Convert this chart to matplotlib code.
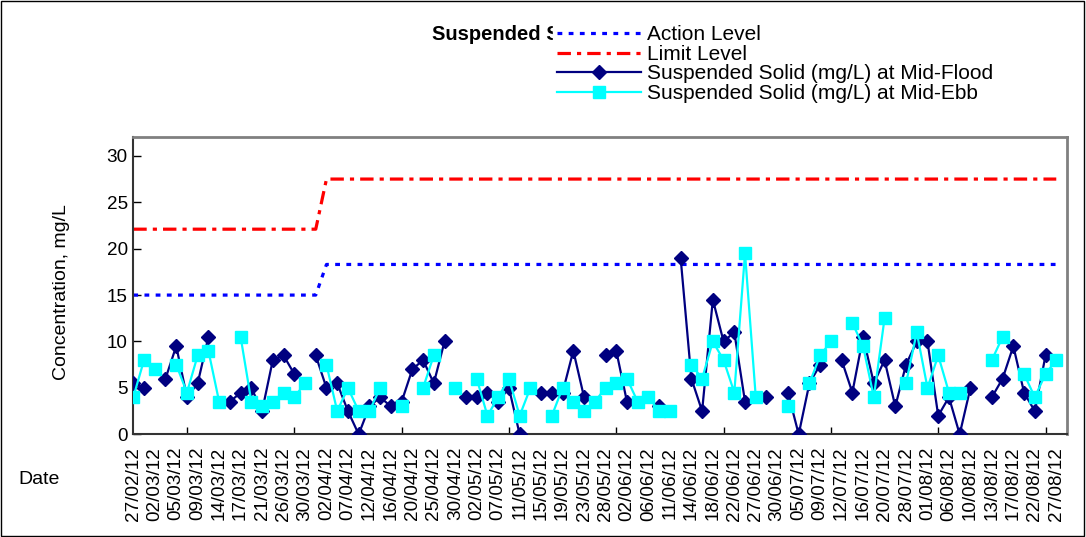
import matplotlib
matplotlib.use("Agg")
import matplotlib.pyplot as plt
import numpy as np
from matplotlib.patches import Rectangle

nan = np.nan

# every 2nd category is labelled on the axis
date_labels = ["27/02/12", "02/03/12", "05/03/12", "09/03/12", "14/03/12", "17/03/12",
               "21/03/12", "26/03/12", "30/03/12", "02/04/12", "07/04/12", "12/04/12",
               "16/04/12", "20/04/12", "25/04/12", "30/04/12", "02/05/12", "07/05/12",
               "11/05/12", "15/05/12", "19/05/12", "23/05/12", "28/05/12", "02/06/12",
               "06/06/12", "11/06/12", "14/06/12", "18/06/12", "22/06/12", "27/06/12",
               "30/06/12", "05/07/12", "09/07/12", "12/07/12", "16/07/12", "20/07/12",
               "28/07/12", "01/08/12", "06/08/12", "10/08/12", "13/08/12", "17/08/12",
               "22/08/12", "27/08/12"]

mid_flood = [5.5, 5.0, nan, 6.0, 9.5, 4.0, 5.5, 10.5, nan, 3.5,
             4.5, 5.0, 2.5, 8.0, 8.5, 6.5, nan, 8.5, 5.0, 5.5,
             2.5, 0.0, 3.0, 4.0, 3.0, 3.5, 7.0, 8.0, 5.5, 10.0,
             nan, 4.0, 4.0, 4.5, 3.5, 5.0, 0.0, nan, 4.5, 4.5,
             4.5, 9.0, 4.0, nan, 8.5, 9.0, 3.5, nan, nan, 3.0,
             nan, 19.0, 6.0, 2.5, 14.5, 10.0, 11.0, 3.5, nan, 4.0,
             nan, 4.5, 0.0, 5.5, 7.5, nan, 8.0, 4.5, 10.5, 5.5,
             8.0, 3.0, 7.5, 10.0, 10.0, 2.0, 4.0, 0.0, 5.0, nan,
             4.0, 6.0, 9.5, 4.5, 2.5, 8.5, nan]

mid_ebb = [4.0, 8.0, 7.0, nan, 7.5, 4.5, 8.5, 9.0, 3.5, nan,
           10.5, 3.5, 3.0, 3.5, 4.5, 4.0, 5.5, nan, 7.5, 2.5,
           5.0, 2.5, 2.5, 5.0, nan, 3.0, nan, 5.0, 8.5, nan,
           5.0, nan, 6.0, 2.0, 4.0, 6.0, 2.0, 5.0, nan, 2.0,
           5.0, 3.5, 2.5, 3.5, 5.0, 5.5, 6.0, 3.5, 4.0, 2.5,
           2.5, nan, 7.5, 6.0, 10.0, 8.0, 4.5, 19.5, 4.0, nan,
           nan, 3.0, nan, 5.5, 8.5, 10.0, nan, 12.0, 9.5, 4.0,
           12.5, nan, 5.5, 11.0, 5.0, 8.5, 4.5, 4.5, nan, nan,
           8.0, 10.5, nan, 6.5, 4.0, 6.5, 8.0]

action_level = [15.0] * 18 + [18.3] * 69
limit_level = [22.1] * 18 + [27.5] * 69

n_cat = 88  # last category is empty
x = np.arange(len(mid_flood))

plt.rcParams["font.family"] = ["Liberation Sans", "DejaVu Sans"]
fs = 13.6

fig = plt.figure(figsize=(10.86, 5.37), dpi=100)
ax = fig.add_axes([133.3 / 1086, 1 - 434.3 / 537, (1067 - 133.3) / 1086, (434.3 - 137.3) / 537])

ax.plot(x, action_level, color="#0000FF", lw=2.3, linestyle=(0, (1.5, 2.0)),
        label="Action Level", zorder=2)
ax.plot(x, limit_level, color="#FF0000", lw=2.3, linestyle=(0, (4.2, 1.9, 1.3, 1.9)),
        label="Limit Level", zorder=2)
ax.plot(x, mid_flood, color="#000080", lw=1.6, marker="D", ms=6.8,
        label="Suspended Solid (mg/L) at Mid-Flood", zorder=3)
ax.plot(x, mid_ebb, color="#00FFFF", lw=1.6, marker="s", ms=8.2,
        label="Suspended Solid (mg/L) at Mid-Ebb", zorder=4)

ax.set_xlim(0, n_cat - 1)
ax.set_ylim(0, 32)
ax.set_yticks(range(0, 31, 5))
ax.tick_params(axis="y", direction="in", length=6, width=1, labelsize=fs, pad=4)

ax.set_xticks(np.arange(0, 2 * len(date_labels), 2))
ax.set_xticklabels(date_labels, rotation=90, fontsize=fs)
ax.tick_params(axis="x", which="major", length=0, pad=9)
ax.set_xticks(np.arange(0, n_cat, 5), minor=True)
ax.tick_params(axis="x", which="minor", direction="in", length=5, width=1)

for side in ["top", "right"]:
    ax.spines[side].set_color("#808080")
    ax.spines[side].set_linewidth(2)
for side in ["left", "bottom"]:
    ax.spines[side].set_color("#333333")
    ax.spines[side].set_linewidth(1.5)

ax.set_ylabel("Concentration, mg/L", fontsize=14)
ax.yaxis.set_label_coords(-0.068, 0.48)

fig.text(18 / 1086, 1 - 480 / 537, "Date", fontsize=14, ha="left", va="center")
fig.text(432 / 1086, 1 - 35 / 537, "Suspended Solids", fontsize=14.5, fontweight="bold",
         ha="left", va="center", zorder=1)

leg = fig.legend(loc="upper left", bbox_to_anchor=(553 / 1086, 1 - 21 / 537), fontsize=15,
                 frameon=True, facecolor="white", edgecolor="white", framealpha=1,
                 borderpad=0.2, borderaxespad=0, handlelength=4.0, handletextpad=0.3,
                 labelspacing=0.03, fancybox=False)
leg.set_zorder(10)

fig.patches.append(Rectangle((0.001, 0.002), 0.997, 0.996, transform=fig.transFigure,
                             fill=False, edgecolor="black", lw=1))

fig.savefig("out.png", dpi=100)
